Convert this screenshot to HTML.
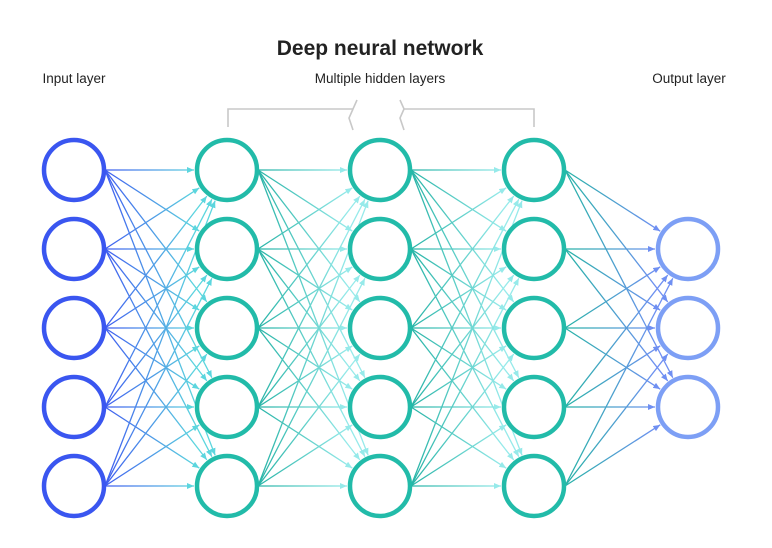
<!DOCTYPE html>
<html><head><meta charset="utf-8"><style>
html,body{margin:0;padding:0;background:#fff;}
svg{display:block;}
text{font-family:"Liberation Sans",sans-serif;fill:#222;}
</style></head><body>
<svg id="s" width="772" height="548" viewBox="0 0 772 548" xmlns="http://www.w3.org/2000/svg">
<defs>
<linearGradient id="g0" gradientUnits="userSpaceOnUse" x1="105" y1="0" x2="196" y2="0"><stop offset="0" stop-color="#3f5cf0"/><stop offset="1" stop-color="#5cd6de"/></linearGradient>
<linearGradient id="g1" gradientUnits="userSpaceOnUse" x1="258" y1="0" x2="349" y2="0"><stop offset="0" stop-color="#26b3a6"/><stop offset="1" stop-color="#96eaea"/></linearGradient>
<linearGradient id="g2" gradientUnits="userSpaceOnUse" x1="411" y1="0" x2="503" y2="0"><stop offset="0" stop-color="#26b3a6"/><stop offset="1" stop-color="#96eaea"/></linearGradient>
<linearGradient id="g3" gradientUnits="userSpaceOnUse" x1="565" y1="0" x2="657" y2="0"><stop offset="0" stop-color="#26b3a6"/><stop offset="1" stop-color="#6f8ff2"/></linearGradient>
<marker id="m0" markerWidth="8" markerHeight="8" refX="7" refY="3" orient="auto" markerUnits="userSpaceOnUse"><path d="M0,0 L7,3 L0,6z" fill="#5cd6de"/></marker>
<marker id="m1" markerWidth="8" markerHeight="8" refX="7" refY="3" orient="auto" markerUnits="userSpaceOnUse"><path d="M0,0 L7,3 L0,6z" fill="#96eaea"/></marker>
<marker id="m3" markerWidth="8" markerHeight="8" refX="7" refY="3" orient="auto" markerUnits="userSpaceOnUse"><path d="M0,0 L7,3 L0,6z" fill="#6f8ff2"/></marker>
</defs>
<text x="380" y="55" text-anchor="middle" font-size="21" font-weight="bold">Deep neural network</text>
<text x="74" y="83" text-anchor="middle" font-size="13.5">Input layer</text>
<text x="380" y="83" text-anchor="middle" font-size="13.5">Multiple hidden layers</text>
<text x="689" y="83" text-anchor="middle" font-size="13.5">Output layer</text>
<g fill="none" stroke="#c8c8c8" stroke-width="1.6">
<path d="M228,127 V109 H353 L357,100 M353,109 L349,118 L353,130"/>
<path d="M534,127 V109 H404 L400,100 M404,109 L400,118 L404,130"/>
</g>
<g id="lines"></g>
<g id="nodes"></g>
</svg>
<script>
var xs=[74,227,380,534,688];
var ys=[170,249,328,407,486], yo=[249,328,407];
var r=30;
var L=document.getElementById('lines'),N=document.getElementById('nodes');
var ns='http://www.w3.org/2000/svg';
var grads=['g0','g1','g2','g3'], marks=['m0','m1','m1','m3'];
for(var k=0;k<4;k++){
  var src=ys, dst=(k==3)?yo:ys;
  for(var i=0;i<src.length;i++)for(var j=0;j<dst.length;j++){
    var x1=xs[k]+r+1,y1=src[i],cx=xs[k+1],cy=dst[j];
    var dx=x1-cx,dy=y1-cy,d=Math.sqrt(dx*dx+dy*dy);
    var x2=cx+dx/d*(r+3),y2=cy+dy/d*(r+3);
    var l=document.createElementNS(ns,'line');
    l.setAttribute('x1',x1);l.setAttribute('y1',y1);l.setAttribute('x2',x2);l.setAttribute('y2',y2);
    l.setAttribute('stroke','url(#'+grads[k]+')');l.setAttribute('stroke-width','1.3');
    l.setAttribute('marker-end','url(#'+marks[k]+')');
    L.appendChild(l);
  }
}
var cols=['#3a56f0','#22bba9','#22bba9','#22bba9','#7d9ff5'];
for(var k=0;k<5;k++){
  var arr=(k==4)?yo:ys;
  for(var i=0;i<arr.length;i++){
    var c=document.createElementNS(ns,'circle');
    c.setAttribute('cx',xs[k]);c.setAttribute('cy',arr[i]);c.setAttribute('r',r);
    c.setAttribute('fill','#fff');c.setAttribute('stroke',cols[k]);c.setAttribute('stroke-width','4.5');
    N.appendChild(c);
  }
}
</script>
</body></html>
